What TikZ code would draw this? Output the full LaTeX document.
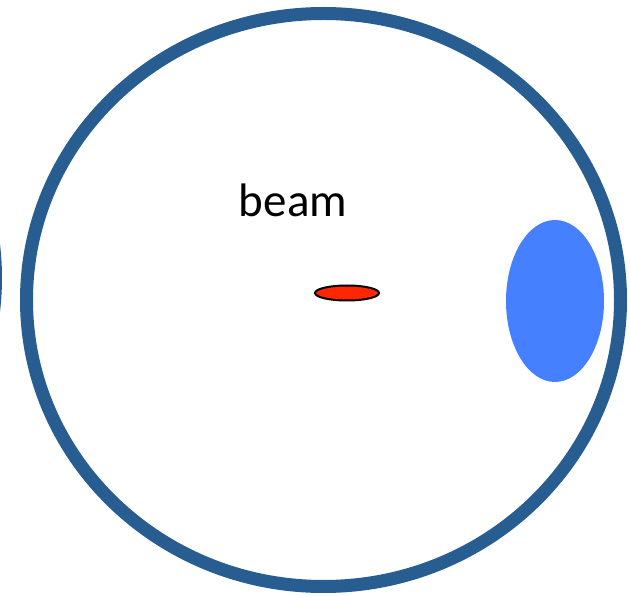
\documentclass[tikz,border=0pt]{standalone}
\usepackage{fontspec}
\setmainfont{Carlito}
\usepackage{xcolor}
\usepackage{tikz}
\definecolor{pipeblue}{RGB}{40, 93, 145}
\definecolor{spotblue}{RGB}{68, 128, 255}
\definecolor{beamred}{RGB}{255, 38, 0}

\begin{document}
\begin{tikzpicture}[x=1pt, y=-1pt]
        % Picture frame
        \useasboundingbox (0, 0) rectangle (630, 596);
        \clip (0, 0) rectangle (630, 596);

        % Beam pipe (neighbour piece at left edge)
        \draw[line width=13pt, color=pipeblue] (-301.5, 278) ellipse [x radius=297, y radius=286.5];

        % Beam pipe
        \draw[line width=13pt, color=pipeblue] (323.5, 300) ellipse [x radius=297, y radius=286.5];

        % Spot on the wall
        \fill[spotblue] (555, 301) ellipse [x radius=49, y radius=81];

        % Beam
        \draw[fill=beamred, draw=black, line width=2pt] (347, 293) ellipse [x radius=32, y radius=7.5];
        \node[font=\fontsize{47}{56}\selectfont] (beamlabel) at (293, 200) {beam};
    \end{tikzpicture}
\end{document}
